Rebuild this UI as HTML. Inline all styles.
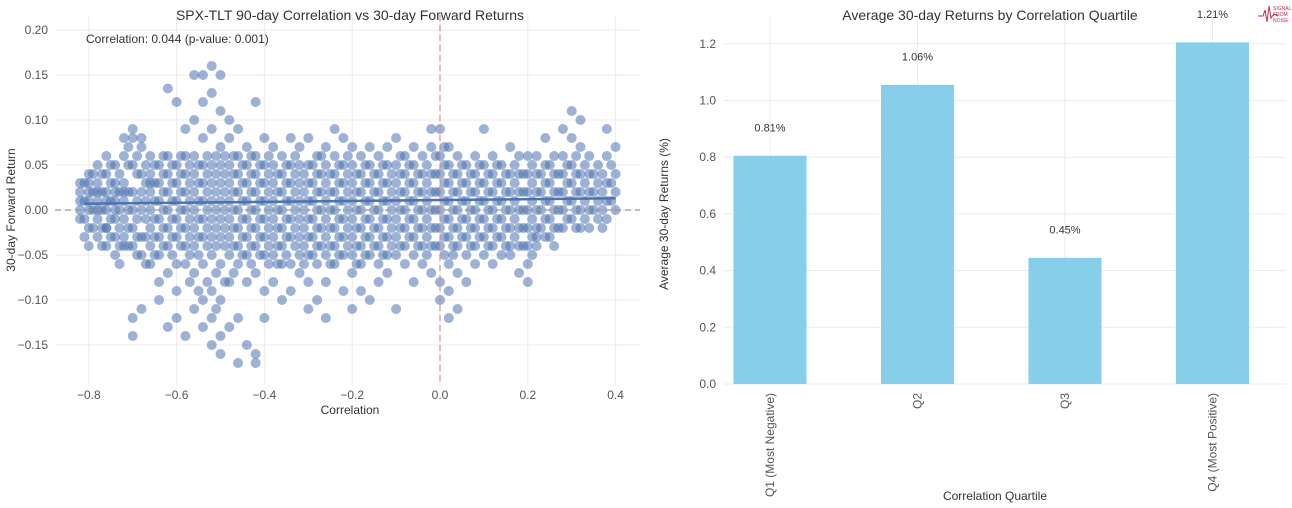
<!DOCTYPE html>
<html><head><meta charset="utf-8">
<style>
body{margin:0;background:#fff;font-family:"Liberation Sans",sans-serif;}
svg{display:block}
text{font-family:"Liberation Sans",sans-serif;}
</style></head>
<body>
<svg id="chart" width="1292" height="508">
<g id="left"></g>
<g id="right"></g>
</svg>
<script>
// ---- scatter data (x column, y values in units of 0.01) ----
const scatterX = [-0.82,-0.80,-0.78,-0.76,-0.74,-0.72,-0.70,-0.68,-0.66,-0.64,-0.62,-0.60,-0.58,-0.56,-0.54,-0.52,-0.50,-0.48,-0.46,-0.44,-0.42,-0.40,-0.38,-0.36,-0.34,-0.32,-0.30,-0.28,-0.26,-0.24,-0.22,-0.20,-0.18,-0.16,-0.14,-0.12,-0.10,-0.08,-0.06,-0.04,-0.02,0.00,0.02,0.04,0.06,0.08,0.10,0.12,0.14,0.16,0.18,0.20,0.22,0.24,0.26,0.28,0.30,0.32,0.34,0.36,0.38,0.40];
const scatterY = [
[2,0,-1,3,1],[4,2,0,-2,-4,1,3],[3,1,-1,-3,5,2,0],[4,2,0,-2,-4,-2,6,1],[3,1,-1,-3,-5,5,2,0],
[8,6,3,1,-1,-3,-4,2],[9,8,5,2,0,-2,-4,-12,-14],[8,7,4,2,0,-3,-5,-11],[6,4,2,0,-2,-4,-6,3],[5,3,1,-1,-3,-5,-8,-10],
[6,4,2,0,-2,-4,-7,-13,13.5],[12,5,3,1,-1,-3,-6,-9,-12],[9,6,4,2,0,-2,-4,-6,-14],[15,10,6,4,2,0,-2,-4,-7,-11],[15,12,8,5,3,1,-1,-3,-6,-10,-13],
[16,13,9,5,3,1,-1,-3,-5,-9,-12,-15],[15,11,7,5,3,1,-1,-3,-6,-10,-14,-16],[10,8,5,3,1,-1,-3,-5,-8,-13],[9,6,4,2,0,-2,-4,-6,-12,-17],[7,5,3,1,-1,-3,-5,-8,-15],
[12,6,4,2,0,-2,-4,-7,-16,-17],[8,5,3,1,-1,-3,-5,-9,-12],[7,5,3,1,-1,-3,-5,-8],[6,4,2,0,-2,-4,-6,-10],[8,5,3,1,-1,-3,-6,-9],
[7,5,3,1,-1,-3,-5,-7],[8,5,3,1,-1,-3,-5,-8,-11],[6,4,2,0,-2,-4,-6,-10],[7,5,3,1,-1,-3,-5,-8,-12],[9,6,4,2,0,-2,-4,-6],
[8,5,3,1,-1,-3,-5,-9],[7,5,3,1,-1,-3,-5,-7,-11],[6,4,2,0,-2,-4,-6,-9],[7,5,3,1,-1,-3,-5,-10],[6,4,2,0,-2,-4,-6,-8],
[7,5,3,1,-1,-3,-5,-7],[8,5,3,1,-1,-3,-5,-11],[6,4,2,0,-2,-4,-6],[7,5,3,1,-1,-3,-5,-8],[6,4,2,0,-2,-4,-6],
[9,7,4,2,0,-2,-4,-7],[9,6,4,2,0,-2,-4,-8,-10],[7,5,3,1,-1,-3,-6,-9,-12],[6,4,2,0,-2,-4,-7,-11],[5,3,1,-1,-3,-5,-8],
[6,4,2,0,-2,-4,-6],[9,5,3,1,-1,-3,-5],[6,4,2,0,-2,-4,-6],[5,3,1,-1,-3,-5],[7,4,2,0,-2,-4,-5],
[6,4,2,0,-2,-4,-7],[6,4,2,0,-2,-4,-6,-8],[6,4,2,0,-2,-4,-3],[8,5,3,1,-1,-3],[6,4,2,0,-2,-4],
[9,6,4,2,0,-2],[11,8,5,3,1,-1],[10,7,4,2,0,-2],[6,4,2,0,-2],[5,3,1,-1],[9,6,3,1,-1],[7,4,2,0]];
// second, interleaved batch of observations (x columns offset by 0.01)
const scatterX2 = [-0.81,-0.79,-0.77,-0.75,-0.73,-0.71,-0.69,-0.67,-0.65,-0.63,-0.61,-0.59,-0.57,-0.55,-0.53,-0.51,-0.49,-0.47,-0.45,-0.43,-0.41,-0.39,-0.37,-0.35,-0.33,-0.31,-0.29,-0.27,-0.25,-0.23,-0.21,-0.19,-0.17,-0.15,-0.13,-0.11,-0.09,-0.07,-0.05,-0.03,-0.01,0.01,0.03,0.05,0.07,0.09,0.11,0.13,0.15,0.17,0.19,0.21,0.23,0.25,0.27,0.29,0.31,0.33,0.35,0.37,0.39];
const scatterY2 = [
[3,1,-1,-3],[2,0,-2,4],[4,2,0,-2,-4],[3,1,-1,-3,5],[4,2,0,-2,-4,-6],
[7,5,2,0,-2,-4],[6,4,1,-1,-3,-5],[5,3,1,-1,-3,-6],[5,3,1,-1,-3,-5],[6,4,2,0,-2,-4],
[5,3,1,-1,-3,-5],[6,4,2,0,-2,-4],[5,3,1,-1,-3,-5,-8],[5,3,1,-1,-3,-5,-9],[6,4,2,0,-2,-4,-8],
[6,4,2,0,-2,-4,-7,-11],[6,4,2,0,-2,-4,-8],[6,4,2,0,-2,-4,-7],[5,3,1,-1,-3,-5],[6,4,2,0,-2,-4,-6],
[5,3,1,-1,-3,-5],[6,4,2,0,-2,-4,-6],[4,2,0,-2,-4,-6],[5,3,1,-1,-3,-5],[6,4,2,0,-2,-4],
[4,2,0,-2,-4,-6],[5,3,1,-1,-3,-5],[6,4,2,0,-2,-4],[4,2,0,-2,-4,-6],[5,3,1,-1,-3,-5],
[6,4,2,0,-2,-4],[4,2,0,-2,-4,-6],[5,3,1,-1,-3,-5],[4,2,0,-2,-4],[5,3,1,-1,-3,-5],
[4,2,0,-2,-4],[6,4,2,0,-2,-4],[5,3,1,-1,-3],[4,2,0,-2,-4],[5,3,1,-1,-3,-5],
[6,4,2,0,-2,-4],[7,5,3,1,-1,-3,-5],[4,2,0,-2,-4,-5],[5,3,1,-1,-3],[4,2,0,-2,-4],
[5,3,1,-1,-3],[4,2,0,-2,-4],[5,3,1,-1,-3],[4,2,0,-2,-4],[5,3,1,-1,-3],
[4,2,0,-2,-4],[5,3,1,-1,-3,-5],[4,2,0,-2],[5,3,1,-1,-3],[4,2,0,-2],
[5,3,1,-1],[6,4,2,0,-2],[5,3,1,-1],[4,2,0],[4,2,0,-2],[5,3,1]];
const scatterXTicks = [-0.8,-0.6,-0.4,-0.2,0.0,0.2,0.4];
const scatterXTickLabels = ["\u22120.8","\u22120.6","\u22120.4","\u22120.2","0.0","0.2","0.4"];
const scatterYTicks = [0.20,0.15,0.10,0.05,0.00,-0.05,-0.10,-0.15];
const scatterYTickLabels = ["0.20","0.15","0.10","0.05","0.00","\u22120.05","\u22120.10","\u22120.15"];
const regLineX = [-0.81,0.40];
const regLineY = [0.007,0.013];
// ---- bar data ----
const quartiles = ["Q1 (Most Negative)","Q2","Q3","Q4 (Most Positive)"];
const avgReturns = [0.805,1.055,0.445,1.205];
const barLabels = ["0.81%","1.06%","0.45%","1.21%"];
const barYTicks = [0.0,0.2,0.4,0.6,0.8,1.0,1.2];
const barYTickLabels = ["0.0","0.2","0.4","0.6","0.8","1.0","1.2"];

const NS="http://www.w3.org/2000/svg";
function mk(parent,tag,attrs,txt){const e=document.createElementNS(NS,tag);for(const k in attrs)e.setAttribute(k,attrs[k]);if(txt!==undefined)e.textContent=txt;parent.appendChild(e);return e;}

// scatter axes
const L=document.getElementById('left');
const sx=v=>440+(v/0.2)*87.8;
const sy=v=>210-(v/0.05)*45;
scatterYTicks.forEach((t,i)=>{
  const g=mk(L,'line',{x1:55,x2:640,y1:sy(t),y2:sy(t),stroke:'#ebebeb','stroke-width':1});
  
  
  const lb=mk(L,'text',{x:48,y:sy(t)+4,'text-anchor':'end','font-size':12,fill:'#555'},scatterYTickLabels[i]);
  
  
});
scatterXTicks.forEach((t,i)=>{
  const g=mk(L,'line',{x1:sx(t),x2:sx(t),y1:15,y2:385,stroke:'#ebebeb','stroke-width':1});
  
  
  const lb=mk(L,'text',{x:sx(t),y:399,'text-anchor':'middle','font-size':12,fill:'#555'},scatterXTickLabels[i]);
  
  
});
scatterX.forEach((x,i)=>{
  scatterY[i].forEach(y=>{
    const c=mk(L,'circle',{cx:sx(x),cy:sy(y/100),r:5,fill:'#4c72b0','fill-opacity':0.55});
    
    
  });
});
scatterX2.forEach((x,i)=>{
  scatterY2[i].forEach(y=>{
    const c=mk(L,'circle',{cx:sx(x),cy:sy(y/100),r:5,fill:'#4c72b0','fill-opacity':0.55});
    
    
  });
});
const zl=mk(L,'line',{x1:55,x2:640,y1:sy(0),y2:sy(0),stroke:'#999','stroke-width':1.2,'stroke-dasharray':'6,4'});


const vl=mk(L,'line',{x1:sx(0),x2:sx(0),y1:15,y2:385,stroke:'#d98a9a','stroke-width':1.2,'stroke-dasharray':'6,4'});


const rl=mk(L,'line',{x1:sx(regLineX[0]),y1:sy(regLineY[0]),x2:sx(regLineX[1]),y2:sy(regLineY[1]),stroke:'#4c72b0','stroke-width':2.5});


let t=mk(L,'text',{x:350,y:20,'text-anchor':'middle','font-size':14,fill:'#333'},'SPX-TLT 90-day Correlation vs 30-day Forward Returns');

t=mk(L,'text',{x:86,y:43,'font-size':12,fill:'#333'},'Correlation: 0.044 (p-value: 0.001)');

t=mk(L,'text',{x:350,y:414,'text-anchor':'middle','font-size':12,fill:'#333'},'Correlation');

t=mk(L,'text',{x:0,y:0,transform:'translate(15,210) rotate(-90)','text-anchor':'middle','font-size':12,fill:'#333'},'30-day Forward Return');


// bar chart
const R=document.getElementById('right');
const by=v=>384-(v/0.2)*56.7;
const bx=i=>770+i*147.5;
barYTicks.forEach((v,i)=>{
  const g=mk(R,'line',{x1:724,x2:1286,y1:by(v),y2:by(v),stroke:'#ebebeb','stroke-width':1});
  
  const lb=mk(R,'text',{x:716,y:by(v)+4,'text-anchor':'end','font-size':12,fill:'#555'},barYTickLabels[i]);
  
});
quartiles.forEach((q,i)=>{
  const g=mk(R,'line',{x1:bx(i),x2:bx(i),y1:15,y2:384,stroke:'#ebebeb','stroke-width':1});
  
  const b=mk(R,'rect',{x:bx(i)-36.5,y:by(avgReturns[i]),width:73,height:by(0)-by(avgReturns[i]),fill:'#87ceeb'});
  
  const lb=mk(R,'text',{x:bx(i),y:by(avgReturns[i]+0.1)+4,'text-anchor':'middle','font-size':11,fill:'#333'},barLabels[i]);
  
  const xl=mk(R,'text',{x:0,y:0,transform:'translate('+(bx(i)+4)+',393) rotate(-90)','text-anchor':'end','font-size':12,fill:'#555'},q);
  
});
t=mk(R,'text',{x:990,y:20,'text-anchor':'middle','font-size':14,fill:'#333'},'Average 30-day Returns by Correlation Quartile');

t=mk(R,'text',{x:995,y:500,'text-anchor':'middle','font-size':12,fill:'#333'},'Correlation Quartile');

t=mk(R,'text',{x:0,y:0,transform:'translate(668,214) rotate(-90)','text-anchor':'middle','font-size':12,fill:'#333'},'Average 30-day Returns (%)');

// logo
const lg=mk(R,'g',{});

mk(lg,'polyline',{points:'1258,16 1263,16 1265,10 1267,22 1269,6 1271,18 1274,14 1278,16',fill:'none',stroke:'#c0304a','stroke-width':1});
mk(lg,'text',{x:1273,y:10,'font-size':5,fill:'#c0304a'},'SIGNAL');
mk(lg,'text',{x:1273,y:16,'font-size':5,fill:'#c0304a'},'FROM');
mk(lg,'text',{x:1273,y:22,'font-size':5,fill:'#c0304a'},'NOISE');
</script>
</body></html>
